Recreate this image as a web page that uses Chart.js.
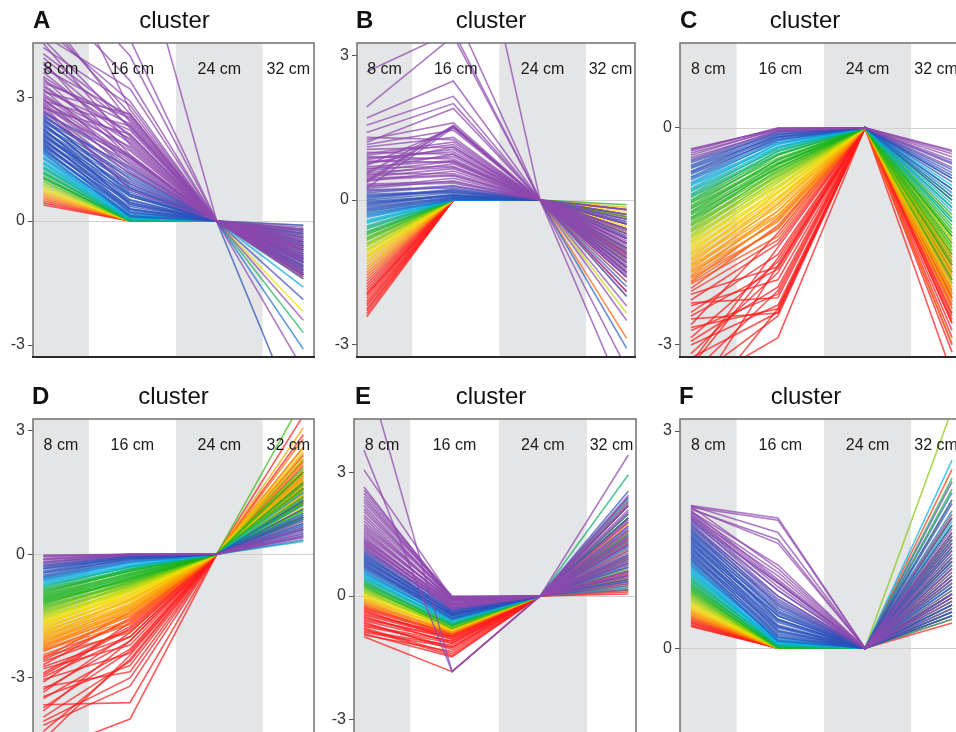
<!DOCTYPE html>
<html><head><meta charset="utf-8">
<script src="https://cdn.jsdelivr.net/npm/chart.js@4.4.1/dist/chart.umd.min.js"></script>
<style>
html,body{margin:0;padding:0;background:#fff;}
body{width:956px;height:732px;overflow:hidden;position:relative;font-family:'Liberation Sans',Arial,Helvetica,sans-serif;}
.panel{position:absolute;}
.letter{position:absolute;font-weight:bold;font-size:24px;line-height:24px;color:#111;white-space:nowrap;}
.ttl{position:absolute;font-size:24px;line-height:24px;color:#111;width:140px;text-align:center;white-space:nowrap;}
</style></head><body>
<script>
// ---------------- DATA ----------------
const positions = ['8 cm', '16 cm', '24 cm', '32 cm'];
const panelLetters = ['A', 'B', 'C', 'D', 'E', 'F'];
const panelTitle = 'cluster';
const yTickValues = [-3, 0, 3];

// each row: value at 8 cm, 16 cm, 24 cm, 32 cm
const clusterA = [
[0.39,0,0,-0.4],[0.44,0,0,-1.1],[0.49,0,0,-0.7],[0.54,0,0,-1.35],[0.59,0,0,-0.2],
[0.64,0,0,-1.3],[0.69,0,0,-0.9],[0.74,0,0,-0.5],[0.79,0,0,-2.2],[0.84,0,0,-1.0],
[0.9,0,0,-0.3],[0.96,0,0,-1.2],[1.02,0.02,0,-0.8],[1.08,0,0,-1.15],[1.14,0.04,0,-2.7],
[1.2,0.03,0,-0.6],[1.26,0.06,0,-1.4],[1.32,0.08,0,-0.1],[1.38,0.05,0,-1.05],[1.44,0.12,0,-0.9],
[1.5,0.1,0,-1.6],[1.56,0.18,0,-0.4],[1.62,0.15,0,-1.2],[1.68,0.25,0,-3.1],[1.74,0.2,0,-0.7],
[1.8,0.35,0,-0.95],[1.86,0.28,0,-0.2],[1.92,0.5,0,-1.25],[1.98,0.4,0,-1.0],[2.04,0.65,0,-0.5],
[2.1,0.45,0,-5.1],[2.16,0.8,0,-1.3],[2.22,0.6,0,-0.8],[2.28,0.95,0,-0.3],[2.34,0.7,0,-0.85],
[2.4,1.1,0,-1.1],[2.46,0.85,0,-0.6],[2.52,1.25,0,-1.9],[2.58,1.0,0,-0.9],[2.64,1.4,0,-0.1],
[2.7,1.15,0,-1.4],[2.76,1.6,0,-0.7],[2.82,1.3,0,-0.65],[2.88,1.8,0,-1.2],[2.94,1.5,0,-0.4],
[3.0,2.0,0,-0.75],[3.08,1.7,0,-0.9],[3.16,2.2,0,-2.4],[3.25,1.9,0,-0.2],[3.35,2.5,0,-1.3],
[3.5,2.1,0,-0.6],[3.7,2.55,0,-0.45],[3.95,2.3,0,-1.0],[4.2,2.8,0,-3.6],[4.5,3.2,0,-0.5],
[4.9,2.6,0,-1.15],[5.4,4.4,0,-0.8],[6.0,7.5,0,-0.55],
[2.67,0.9,0,-0.35],[2.73,2.1,0,-1.0],[2.79,0.75,0,-0.6],[2.85,1.45,0,-1.3],[2.91,2.3,0,-0.25],
[2.97,1.2,0,-0.8],[3.04,1.55,0,-1.1],[3.12,2.6,0,-0.5],[3.2,1.35,0,-0.9],[3.3,1.75,0,-1.25],
[3.4,2.35,0,-0.7],[3.45,1.55,0,-0.15],[3.6,1.95,0,-1.05],[3.8,2.05,0,-0.6],[3.85,1.6,0,-0.95],
[4.05,2.45,0,-0.3],[4.3,1.85,0,-1.2],[4.4,2.25,0,-0.75],[4.7,2.9,0,-0.4],[5.1,2.4,0,-1.0],
[5.6,3.4,0,-0.65],[6.3,4.0,0,-0.85],[7.0,2.7,0,-1.35],
[1.71,0.3,0,-0.55],[1.77,0.12,0,-1.15],[1.83,0.45,0,-0.8],[1.89,0.22,0,-0.35],[1.95,0.6,0,-1.0],
[2.01,0.3,0,-0.65],[2.07,0.75,0,-1.2],[2.13,0.52,0,-0.45],[2.19,0.9,0,-0.95],[2.25,0.4,0,-0.25],
[2.31,1.05,0,-1.1],[2.37,0.65,0,-0.7],[2.43,1.3,0,-0.5],[2.49,0.8,0,-1.3],[2.55,1.15,0,-0.85],
[2.61,1.55,0,-0.6],[1.29,0.02,0,-0.75],[1.41,0.08,0,-0.5],[1.53,0.14,0,-1.0],[1.65,0.1,0,-0.3],
[1.17,0,0,-0.9],[1.05,0,0,-0.55]
];
const clusterB = [
[-2.42,0,0,-1.2],[-2.3,0,0,-0.5],[-2.2,0,0,-1.9],[-2.1,0,0,-0.8],[-1.98,0,0,-1.4],
[-1.92,0,0,-0.3],[-1.86,0,0,-1.0],[-1.8,0,0,-0.6],[-1.74,0,0,-1.5],[-1.68,0,0,-0.2],
[-1.62,0,0,-1.1],[-1.56,0,0,-2.87],[-1.5,0,0,-0.4],[-1.44,0,0,-0.9],[-1.38,0,0,-1.3],
[-1.32,0,0,-0.15],[-1.26,0,0,-1.7],[-1.2,0,0,-0.7],[-1.14,0,0,-0.25],[-1.08,0,0,-1.1],
[-1.02,0,0,-2.35],[-0.96,0,0,-0.5],[-0.9,0,0,-0.3],[-0.84,0,0,-1.4],[-0.78,0,0,-0.9],
[-0.72,0,0,-0.1],[-0.66,0,0,-0.6],[-0.6,0,0,-1.0],[-0.54,0,0,-2.0],[-0.48,0,0,-0.4],
[-0.42,0,0,-1.2],[-0.36,0,0,-0.8],[-0.3,0,0,-1.5],[-0.24,0.02,0,-3.08],[-0.18,0.05,0,-0.7],
[-0.12,0.1,0,-1.3],[-0.06,0.08,0,-0.2],[0.0,0.15,0,-1.8],[0.06,0.22,0,-1.0],[0.12,0.18,0,-0.5],
[0.18,0.3,0,-1.4],[0.24,0.4,0,-0.9],[0.3,0.35,0,-2.2],[0.36,1.53,0,-0.6],[0.42,0.5,0,-1.1],
[0.48,0.65,0,-1.6],[0.54,0.55,0,-0.3],[0.6,0.8,0,-1.2],[0.66,0.7,0,-0.8],[0.72,1.5,0,-1.9],
[0.78,0.9,0,-1.0],[0.84,1.05,0,-0.4],[0.9,0.85,0,-1.5],[0.96,1.2,0,-2.5],[1.05,1.1,0,-0.7],
[1.15,1.45,0,-3.5],[1.25,1.6,0,-1.3],[1.4,2.0,0,-4.2],[1.55,2.15,0,-0.9],[1.7,2.47,0,-1.7],
[1.93,3.4,0,-1.1],[2.66,3.5,0,-0.6],[3.6,3.96,0,-1.4],[5.0,8.1,0,-0.8],
[-0.27,0,0,-0.9],[-0.21,0.03,0,-1.4],[-0.15,0.06,0,-0.5],[-0.09,0.12,0,-1.1],[-0.03,0.1,0,-0.3],
[0.03,0.2,0,-1.6],[0.09,0.16,0,-0.8],[0.15,0.28,0,-1.2],[0.21,0.25,0,-0.4],[0.27,0.45,0,-1.0],
[0.33,0.38,0,-1.45],[0.39,0.6,0,-0.65],[0.45,0.52,0,-1.25],[0.51,0.75,0,-0.2],[0.57,0.68,0,-0.95],
[0.63,0.95,0,-1.55],[0.69,0.82,0,-0.5],[0.75,1.1,0,-1.15],[0.81,0.78,0,-0.75],[0.87,1.0,0,-1.35],
[0.93,1.15,0,-0.6],[0.99,0.95,0,-1.05],[0.4,1.55,0,-0.9],[0.25,1.5,0,-1.2],[0.55,1.53,0,-0.45],
[1.1,1.3,0,-2.0],[1.3,1.25,0,-0.85],[1.2,1.9,0,-1.6],
[-2.36,0,0,-0.7],[-2.26,0,0,-1.5],[-2.15,0,0,-0.35],[-2.04,0,0,-1.15],[-1.95,0,0,-0.9],
[-1.17,0,0,-0.55],[-1.05,0,0,-1.25],[-0.93,0,0,-0.65],[-0.81,0,0,-1.05],[-0.69,0,0,-0.35],
[-0.57,0,0,-1.3],[-0.45,0,0,-0.75],[-0.33,0,0,-0.45]
];
const clusterC = [
[-0.29,-0.02,0,-0.31],[-0.32,0,0,-0.36],[-0.35,-0.03,0,-0.45],[-0.38,-0.01,0,-0.4],[-0.41,-0.05,0,-0.55],
[-0.44,-0.04,0,-0.5],[-0.48,-0.08,0,-0.62],[-0.52,-0.06,0,-0.7],[-0.56,-0.12,0,-0.58],[-0.6,-0.1,0,-0.85],
[-0.64,-0.16,0,-0.75],[-0.68,-0.14,0,-1.0],[-0.72,-0.2,0,-0.9],[-0.76,-0.18,0,-1.15],[-0.8,-0.26,0,-0.8],
[-0.84,-0.22,0,-1.3],[-0.88,-0.3,0,-1.05],[-0.92,-0.28,0,-1.4],[-0.96,-0.36,0,-0.95],[-1.0,-0.32,0,-1.6],
[-1.04,-0.42,0,-1.2],[-1.08,-0.38,0,-1.75],[-1.12,-0.48,0,-1.1],[-1.16,-0.44,0,-1.5],[-1.2,-0.55,0,-1.9],
[-1.24,-0.5,0,-1.35],[-1.28,-0.6,0,-2.1],[-1.32,-0.52,0,-1.45],[-1.36,-0.66,0,-1.7],[-1.4,-0.58,0,-1.25],
[-1.44,-0.72,0,-2.0],[-1.48,-0.64,0,-1.55],[-1.52,-0.8,0,-1.8],[-1.56,-0.7,0,-2.3],[-1.6,-0.88,0,-1.4],
[-1.64,-0.76,0,-1.95],[-1.68,-0.95,0,-1.65],[-1.72,-0.84,0,-2.2],[-1.76,-1.02,0,-1.5],[-1.8,-0.9,0,-2.4],
[-1.84,-1.1,0,-1.85],[-1.88,-0.98,0,-2.05],[-1.92,-1.2,0,-1.6],[-1.96,-1.06,0,-2.5],[-2.0,-1.3,0,-1.9],
[-2.04,-1.15,0,-2.2],[-2.08,-1.4,0,-2.98],[-2.12,-1.25,0,-1.75],[-2.16,-1.5,0,-2.35],[-2.22,-1.35,0,-2.1],
[-2.3,-1.92,0,-1.8],[-2.38,-1.6,0,-2.56],[-2.46,-2.1,0,-2.3],[-2.55,-1.75,0,-3.4],[-2.64,-2.56,0,-2.0],
[-2.72,-1.45,0,-2.45],[-2.8,-2.3,0,-1.95],[-2.9,-1.85,0,-2.7],[-3.0,-2.45,0,-2.25],[-3.12,-2.0,0,-2.6],
[-3.25,-1.65,0,-3.1],[-3.4,-2.25,0,-2.4],[-3.6,-2.9,0,-2.8],[-3.8,-1.9,0,-2.9],[-4.0,-2.5,0,-2.3],
[-0.3,-0.01,0,-0.33],[-0.46,-0.06,0,-0.48],[-0.54,-0.09,0,-0.66],[-0.62,-0.13,0,-0.7],[-0.7,-0.17,0,-0.95],
[-0.78,-0.23,0,-1.1],[-0.86,-0.27,0,-0.85],[-0.94,-0.33,0,-1.25],[-1.02,-0.37,0,-1.5],[-1.1,-0.45,0,-1.0],
[-1.18,-0.5,0,-1.65],[-1.26,-0.56,0,-1.3],[-1.34,-0.62,0,-1.85],[-1.42,-0.68,0,-1.45],[-1.5,-0.75,0,-2.15],
[-1.58,-0.82,0,-1.7],[-1.66,-0.9,0,-1.55],[-1.74,-0.98,0,-2.05],[-1.82,-1.05,0,-1.75],[-1.9,-1.15,0,-2.25],
[-1.98,-1.22,0,-1.85],[-2.06,-1.28,0,-2.4],[-2.14,-1.38,0,-2.0],
[-2.26,-1.55,0,-2.7],[-2.42,-2.35,0,-1.9],[-2.6,-1.95,0,-2.5],[-2.76,-2.5,0,-2.15],[-2.95,-2.2,0,-3.0],
[-3.18,-2.55,0,-2.35],[-3.3,-1.8,0,-2.65],[-3.5,-2.6,0,-2.05]
];
const clusterD = [
[-0.02,0,0,0.45],[-0.06,0,0,0.6],[-0.1,0,0,0.4],[-0.14,-0.01,0,0.8],[-0.18,0,0,0.5],
[-0.22,-0.02,0,0.7],[-0.26,-0.03,0,0.95],[-0.31,-0.05,0,0.55],[-0.36,-0.08,0,1.1],[-0.41,-0.06,0,0.65],
[-0.46,-0.12,0,0.85],[-0.51,-0.1,0,1.3],[-0.56,-0.16,0,0.35],[-0.62,-0.2,0,0.75],[-0.68,-0.26,0,1.5],
[-0.74,-0.32,0,0.31],[-0.8,-0.3,0,1.0],[-0.86,-0.4,0,1.7],[-0.92,-0.36,0,0.6],[-0.98,-0.46,0,1.2],
[-1.04,-0.5,0,2.0],[-1.1,-0.56,0,0.9],[-1.16,-0.62,0,1.4],[-1.22,-0.58,0,3.77],[-1.28,-0.7,0,1.1],
[-1.34,-0.66,0,1.6],[-1.4,-0.78,0,0.8],[-1.46,-0.74,0,2.3],[-1.52,-0.86,0,1.3],[-1.58,-0.82,0,1.05],
[-1.64,-0.95,0,1.8],[-1.7,-0.9,0,1.45],[-1.76,-1.05,0,2.5],[-1.82,-1.0,0,1.15],[-1.88,-1.12,0,1.9],
[-1.94,-1.2,0,1.35],[-2.0,-1.1,0,3.07],[-2.06,-1.3,0,1.55],[-2.12,-1.25,0,2.2],[-2.18,-1.42,0,1.25],
[-2.24,-1.35,0,1.75],[-2.3,-1.6,0,2.8],[-2.36,-1.5,0,1.5],[-2.44,-1.7,0,1.85],[-2.52,-1.4,0,1.3],
[-2.6,-1.85,0,2.05],[-2.68,-1.55,0,1.6],[-2.78,-2.2,0,3.37],[-2.88,-1.75,0,1.4],[-2.98,-2.0,0,2.4],
[-3.1,-1.65,0,1.7],[-3.22,-2.85,0,1.95],[-3.35,-1.9,0,1.2],[-3.5,-2.3,0,2.6],[-3.65,-3.6,0,1.8],
[-3.8,-2.1,0,1.45],[-3.95,-2.6,0,2.15],[-4.15,-3.2,0,1.65],[-4.5,-2.45,0,1.35],[-4.8,-4.0,0,2.0],
[-0.04,0,0,0.5],[-0.12,0,0,0.65],[-0.2,-0.01,0,0.42],[-0.28,-0.04,0,0.75],[-0.34,-0.06,0,0.9],
[-0.44,-0.09,0,0.6],[-0.54,-0.14,0,1.0],[-0.59,-0.18,0,0.45],[-0.65,-0.22,0,1.2],[-0.71,-0.28,0,0.7],
[-0.77,-0.3,0,1.35],[-0.83,-0.36,0,0.85],[-0.89,-0.42,0,1.6],[-0.95,-0.4,0,0.95],[-1.01,-0.48,0,1.25],
[-1.07,-0.53,0,1.75],[-1.13,-0.6,0,1.05],[-1.19,-0.64,0,2.1],[-1.25,-0.68,0,1.3],[-1.31,-0.72,0,1.55],
[-1.37,-0.75,0,0.9],[-1.43,-0.8,0,1.95],[-1.49,-0.84,0,1.2],[-1.55,-0.9,0,2.35],[-1.61,-0.88,0,1.4],
[-1.67,-1.0,0,1.65],[-1.73,-0.96,0,2.05],[-1.79,-1.08,0,1.1],[-1.85,-1.15,0,1.7],[-1.91,-1.1,0,2.6],
[-1.97,-1.28,0,1.45],[-2.03,-1.22,0,1.85],[-2.09,-1.4,0,1.2],[-2.15,-1.32,0,2.45],[-2.21,-1.5,0,1.6],
[-2.27,-1.45,0,1.3],[-2.33,-1.68,0,2.0],
[-2.48,-1.9,0,1.5],[-2.56,-1.6,0,2.25],[-2.73,-2.0,0,1.25],[-2.93,-1.8,0,1.75],[-3.04,-2.4,0,2.9],
[-3.28,-2.1,0,1.55],[-3.45,-2.7,0,1.9],[-3.72,-2.35,0,1.6],[-4.05,-3.0,0,2.3],[-4.3,-2.55,0,1.4]
];
const clusterE = [
[-0.99,-1.84,0,0.1],[-0.92,-1.48,0,0.6],[-0.85,-1.2,0,1.2],[-0.78,-1.4,0,0.3],[-0.71,-1.1,0,1.8],
[-0.64,-1.3,0,0.05],[-0.57,-1.0,0,0.9],[-0.5,-1.15,0,1.5],[-0.43,-0.95,0,0.4],[-0.36,-1.05,0,2.2],
[-0.3,-0.9,0,0.7],[-0.24,-0.95,0,1.1],[-0.18,-0.85,0,0.2],[-0.12,-0.9,0,1.6],[-0.06,-0.8,0,0.8],
[0.0,-0.85,0,2.3],[0.06,-0.75,0,0.45],[0.12,-0.8,0,1.35],[0.18,-0.7,0,0.15],[0.24,-0.78,0,1.9],
[0.3,-0.68,0,0.65],[0.36,-0.72,0,2.95],[0.42,-0.6,0,1.0],[0.48,-0.65,0,0.35],[0.54,-0.55,0,2.4],
[0.6,-0.58,0,0.85],[0.66,-0.5,0,1.45],[0.72,-0.45,0,0.25],[0.78,-0.55,0,2.0],[0.84,-0.4,0,0.75],
[0.9,-0.48,0,1.25],[0.96,-0.35,0,0.5],[1.02,-0.42,0,2.55],[1.08,-0.3,0,1.05],[1.14,-0.25,0,0.35],
[1.2,-0.32,0,1.7],[1.26,-0.2,0,0.95],[1.32,-0.28,0,2.1],[1.38,-0.15,0,0.6],[1.45,-0.22,0,1.4],
[1.55,-0.1,0,0.15],[1.65,-0.18,0,2.45],[1.75,-0.05,0,0.8],[1.9,-0.12,0,1.15],[2.05,-0.02,0,1.85],
[2.2,-0.08,0,0.45],[2.35,0,0,1.6],[2.5,-0.04,0,2.25],[2.65,-0.1,0,1.0],[3.07,-0.06,0,0.55],
[3.55,-1.84,0,3.43],[5.71,-1.84,0,1.3],
[-0.27,-0.92,0,0.55],[-0.21,-0.88,0,1.3],[-0.15,-0.86,0,0.3],[-0.09,-0.82,0,1.75],[-0.03,-0.8,0,0.6],
[0.03,-0.78,0,1.1],[0.09,-0.76,0,0.25],[0.15,-0.74,0,2.0],[0.21,-0.72,0,0.9],[0.27,-0.7,0,1.5],
[0.33,-0.66,0,0.4],[0.39,-0.64,0,2.35],[0.45,-0.6,0,0.7],[0.51,-0.57,0,1.2],[0.57,-0.55,0,0.2],
[0.63,-0.52,0,1.65],[0.69,-0.48,0,0.95],[0.75,-0.44,0,2.2],[0.81,-0.46,0,0.5],[0.87,-0.38,0,1.35],
[0.93,-0.42,0,0.8],[0.99,-0.33,0,1.9],[1.05,-0.36,0,0.4],[1.11,-0.28,0,1.55],[1.17,-0.3,0,0.7],
[1.23,-0.22,0,2.3],[1.29,-0.25,0,1.1],[1.35,-0.18,0,0.3],[1.41,-0.2,0,1.8],[1.5,-0.12,0,0.9],
[1.6,-0.15,0,1.45],[1.7,-0.08,0,2.05],[1.82,-0.1,0,0.6],[1.97,-0.04,0,1.25],[2.12,-0.06,0,0.85],
[2.28,-0.02,0,1.7],[2.42,-0.05,0,0.5],[2.58,-0.03,0,2.4],
[-0.95,-1.35,0,0.8],[-0.88,-1.25,0,1.4],[-0.81,-1.45,0,0.45],[-0.74,-1.15,0,1.0],[-0.67,-1.25,0,0.15],
[-0.6,-1.1,0,1.6],[-0.53,-1.05,0,0.35],[-0.46,-1.0,0,1.25],[-0.39,-0.98,0,0.6],[-0.33,-0.94,0,1.9]
];
const clusterF = [
[0.3,0,0,0.35],[0.33,0,0,1.2],[0.36,0,0,0.6],[0.39,0,0,2.47],[0.42,0,0,0.9],
[0.45,0,0,1.6],[0.48,0,0,0.45],[0.51,0,0,1.05],[0.55,0,0,1.4],[0.59,0,0,0.7],
[0.63,0,0,1.85],[0.67,0,0,0.55],[0.71,0.01,0,3.3],[0.75,0,0,1.25],[0.79,0.02,0,0.8],
[0.83,0,0,2.2],[0.87,0.03,0,1.0],[0.91,0.02,0,1.7],[0.95,0.04,0,0.4],[0.99,0.05,0,1.5],
[1.03,0.08,0,0.65],[1.07,0.06,0,2.6],[1.11,0.1,0,1.15],[1.15,0.12,0,0.85],[1.19,0.15,0,1.9],
[1.23,0.1,0,0.5],[1.27,0.22,0,1.35],[1.31,0.18,0,0.75],[1.35,0.3,0,2.05],[1.39,0.25,0,0.95],
[1.43,0.38,0,1.55],[1.47,0.32,0,0.6],[1.51,0.45,0,1.2],[1.55,0.4,0,1.8],[1.59,0.55,0,0.45],
[1.63,0.5,0,1.1],[1.67,0.65,0,1.45],[1.71,0.6,0,0.7],[1.75,0.8,0,2.3],[1.78,0.72,0,0.9],
[1.81,0.9,0,1.3],[1.84,0.85,0,0.55],[1.87,1.05,0,1.65],[1.9,0.95,0,1.0],[1.93,1.45,0,0.8],
[1.95,1.77,0,1.25],[1.97,1.6,0,0.65],
[0.31,0,0,0.75],[0.35,0,0,1.45],[0.38,0,0,0.4],[0.41,0,0,1.8],[0.44,0,0,0.65],
[0.47,0,0,1.1],[0.5,0,0,0.5],[0.53,0,0,1.35],[0.57,0,0,0.9],[0.61,0,0,1.55],
[0.65,0,0,0.45],[0.69,0.01,0,2.05],[0.73,0,0,0.95],[0.77,0.02,0,1.5],[0.81,0.01,0,0.6],
[0.85,0.03,0,1.2],[0.89,0.02,0,2.35],[0.93,0.05,0,0.75],[0.97,0.04,0,1.3],[1.01,0.07,0,0.5],
[1.05,0.09,0,1.75],[1.09,0.08,0,0.9],[1.13,0.14,0,1.4],[1.17,0.11,0,0.55],[1.21,0.2,0,2.15],
[1.25,0.16,0,1.0],[1.29,0.28,0,0.7],[1.33,0.24,0,1.6],[1.37,0.36,0,0.45],[1.41,0.3,0,1.25],
[1.45,0.45,0,2.0],[1.49,0.4,0,0.85],[1.53,0.52,0,1.4],[1.57,0.48,0,0.6],[1.61,0.62,0,1.7],
[1.65,0.58,0,1.05],[1.69,0.72,0,0.5],[1.73,0.68,0,1.5],[1.77,0.9,0,1.15],[1.8,0.8,0,0.75],
[1.83,1.0,0,1.85],[1.86,0.92,0,0.95],[1.89,1.15,0,1.35],[1.92,1.5,0,0.7],[1.96,1.1,0,1.55],
[1.97,1.8,0,1.1]
];

// ---------------- STYLE ----------------
const RED='#ff1a1a', ORANGE='#ff8a00', YELLOW='#f2e200', GREEN='#1bb31b',
      CYAN='#00b4e8', BLUE='#2b50bb', PURPLE='#8e48ad';
const LINE_ALPHA = 0.72, LINE_WIDTH = 1.6;
const BAND_EDGES = [0.525, 1.53, 2.53];

const panels = [
 {rows:clusterA, box:[33,43,281,314], y:[-3.29,4.31], x:[-0.119,3.123], letterX:33, titleCX:174.5, baseY:28,
  stops:[[0.45,RED],[0.62,ORANGE],[0.78,YELLOW],[1.02,GREEN],[1.45,CYAN],[1.8,BLUE],[2.45,BLUE],[2.75,PURPLE]]},
 {rows:clusterB, box:[357,43,278,314], y:[-3.257,3.257], x:[-0.112,3.096], letterX:356, titleCX:491, baseY:28,
  stops:[[-1.75,RED],[-1.45,ORANGE],[-1.1,YELLOW],[-0.72,GREEN],[-0.42,CYAN],[-0.2,BLUE],[0.08,BLUE],[0.3,PURPLE]]},
 {rows:clusterC, box:[680,43,281,314], y:[-3.167,1.17], x:[-0.126,3.103], letterX:680, titleCX:805, baseY:28,
  stops:[[-2.3,RED],[-2.0,ORANGE],[-1.62,YELLOW],[-1.25,GREEN],[-1.05,GREEN],[-0.8,CYAN],[-0.66,BLUE],[-0.5,BLUE],[-0.4,PURPLE]]},
 {rows:clusterD, box:[33,419,281,314], y:[-4.337,3.284], x:[-0.119,3.123], letterX:32, titleCX:173.5, baseY:404,
  stops:[[-2.6,RED],[-2.2,ORANGE],[-1.62,YELLOW],[-1.15,GREEN],[-0.9,GREEN],[-0.68,CYAN],[-0.5,BLUE],[-0.33,BLUE],[-0.15,PURPLE]]},
 {rows:clusterE, box:[354,419,282,314], y:[-3.333,4.307], x:[-0.113,3.087], letterX:355, titleCX:491, baseY:404,
  stops:[[-0.32,RED],[-0.16,ORANGE],[0.02,YELLOW],[0.26,GREEN],[0.5,CYAN],[0.72,BLUE],[1.0,BLUE],[1.22,PURPLE]]},
 {rows:clusterF, box:[680,419,281,314], y:[-1.17,3.167], x:[-0.126,3.103], letterX:679, titleCX:806, baseY:404,
  stops:[[0.36,RED],[0.47,ORANGE],[0.6,YELLOW],[0.82,GREEN],[1.08,CYAN],[1.25,BLUE],[1.6,BLUE],[1.85,PURPLE]]}
];

function hexRgb(h){return [parseInt(h.slice(1,3),16),parseInt(h.slice(3,5),16),parseInt(h.slice(5,7),16)];}
function colorFor(v, stops){
  let c;
  if (v <= stops[0][0]) c = hexRgb(stops[0][1]);
  else if (v >= stops[stops.length-1][0]) c = hexRgb(stops[stops.length-1][1]);
  else {
    for (let i=0;i<stops.length-1;i++){
      const [v0,h0]=stops[i],[v1,h1]=stops[i+1];
      if (v>=v0 && v<=v1){
        const t=(v-v0)/(v1-v0), a=hexRgb(h0), b=hexRgb(h1);
        c=a.map((q,k)=>Math.round(q+(b[k]-q)*t)); break;
      }
    }
  }
  return `rgba(${c[0]},${c[1]},${c[2]},${LINE_ALPHA})`;
}

const FONT = "'Liberation Sans', Arial, Helvetica, sans-serif";

const decorPlugin = {
  id:'decor',
  beforeDatasetsDraw(chart){
    const {ctx, chartArea:a, scales:{x,y}} = chart;
    const p = v => x.getPixelForValue(v);
    ctx.save();
    ctx.fillStyle = '#e4e5e6';
    ctx.fillRect(a.left, a.top, p(BAND_EDGES[0]) - a.left, a.bottom - a.top);
    ctx.fillRect(p(BAND_EDGES[1]), a.top, p(BAND_EDGES[2]) - p(BAND_EDGES[1]), a.bottom - a.top);
    const y0 = Math.round(y.getPixelForValue(0)) + 0.5;
    ctx.strokeStyle = '#d0d0d0'; ctx.lineWidth = 1;
    ctx.beginPath(); ctx.moveTo(a.left, y0); ctx.lineTo(a.right, y0); ctx.stroke();
    ctx.restore();
  },
  afterDatasetsDraw(chart){
    const {ctx, chartArea:a, scales:{x}} = chart;
    const e = [x.min, ...BAND_EDGES, x.max];
    ctx.save();
    ctx.font = '16px ' + FONT;
    ctx.fillStyle = '#1a1a1a';
    ctx.textAlign = 'center'; ctx.textBaseline = 'middle';
    positions.forEach((lab, i) => {
      const cx = x.getPixelForValue((e[i] + e[i+1]) / 2);
      ctx.fillText(lab, cx, a.top + 27);
    });
    ctx.strokeStyle = '#707070'; ctx.lineWidth = 1.5;
    ctx.strokeRect(a.left, a.top, a.right - a.left, a.bottom - a.top);
    ctx.strokeStyle = '#2a2a2a'; ctx.lineWidth = 2;
    ctx.beginPath(); ctx.moveTo(a.left - 1, a.bottom); ctx.lineTo(a.right + 1, a.bottom); ctx.stroke();
    ctx.restore();
  }
};

const AXW = 50, PADT = 12, PADB = 12, PADR = 4;

panels.forEach((pnl, idx) => {
  const [L, T, W, H] = pnl.box;
  const div = document.createElement('div');
  div.className = 'panel';
  const cw = AXW + W + PADR, ch = H + PADT + PADB;
  div.style.left = (L - AXW) + 'px'; div.style.top = (T - PADT) + 'px';
  div.style.width = cw + 'px'; div.style.height = ch + 'px';
  const cv = document.createElement('canvas');
  cv.width = cw; cv.height = ch; cv.style.width = cw + 'px'; cv.style.height = ch + 'px';
  div.appendChild(cv); document.body.appendChild(div);

  const letter = document.createElement('div');
  letter.className = 'letter'; letter.textContent = panelLetters[idx];
  letter.style.left = pnl.letterX + 'px'; letter.style.top = (pnl.baseY - 20.3) + 'px';
  document.body.appendChild(letter);
  const ttl = document.createElement('div');
  ttl.className = 'ttl'; ttl.textContent = panelTitle;
  ttl.style.left = (pnl.titleCX - 70) + 'px'; ttl.style.top = (pnl.baseY - 20.3) + 'px';
  document.body.appendChild(ttl);

  // highest 8 cm value first -> drawn last (on top)
  const sorted = pnl.rows.slice().sort((a, b) => b[0] - a[0]);
  const datasets = sorted.map(r => ({
    data: r.map((v, i) => ({x: i, y: v})),
    borderColor: colorFor(r[0], pnl.stops),
    borderWidth: LINE_WIDTH,
    pointRadius: 0,
    tension: 0,
    fill: false,
    clip: 0
  }));

  new Chart(cv, {
    type: 'line',
    data: { labels: positions, datasets },
    options: {
      responsive: false, animation: false, devicePixelRatio: 1, events: [],
      layout: { padding: { left: 0, right: PADR, top: PADT, bottom: PADB } },
      plugins: { legend: { display: false }, tooltip: { enabled: false }, title: { display: false } },
      scales: {
        x: { type: 'linear', min: pnl.x[0], max: pnl.x[1], display: false },
        y: {
          type: 'linear', min: pnl.y[0], max: pnl.y[1], position: 'left',
          afterBuildTicks: s => { s.ticks = yTickValues.filter(v => v >= s.min && v <= s.max).map(v => ({value: v})); },
          afterFit: s => { s.width = AXW; s.paddingTop = 0; s.paddingBottom = 0; },
          grid: { display: true, drawOnChartArea: false, drawTicks: true, tickLength: 5, color: '#555', lineWidth: 1 },
          border: { display: false },
          ticks: { color: '#333', font: { family: FONT, size: 16 }, padding: 3, callback: v => String(v) }
        }
      }
    },
    plugins: [decorPlugin]
  });
});
</script>
</body></html>
